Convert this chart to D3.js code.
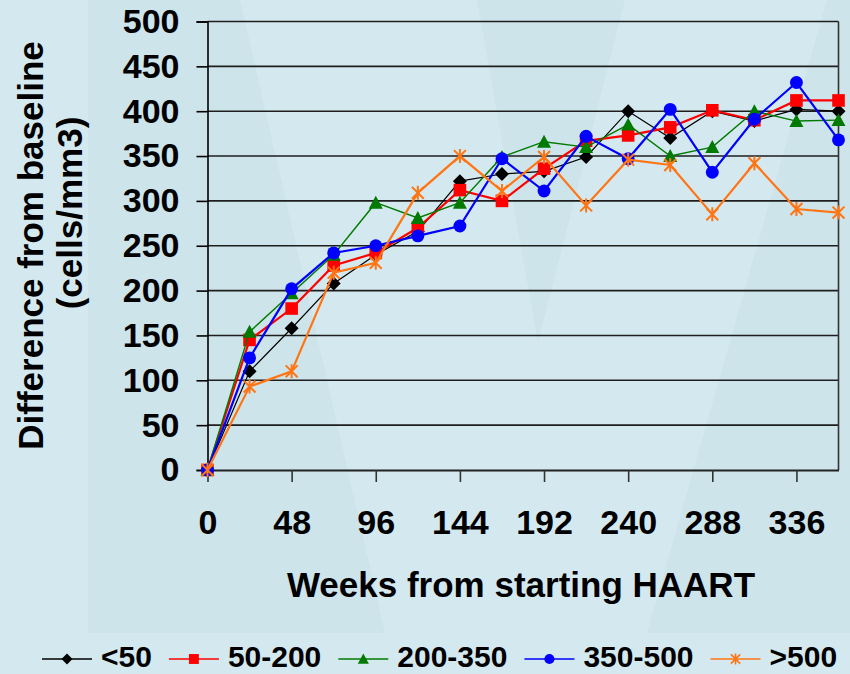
<!DOCTYPE html>
<html lang="en">
<head>
<meta charset="utf-8">
<title>CD4 change from baseline</title>
<script src="https://d3js.org/d3.v7.min.js"></script>
<style>
body { margin: 0; background: #cde4eb; }
text { font-family: "Liberation Sans", Arial, sans-serif; font-weight: bold; fill: #000; }
</style>
</head>
<body>
<div id="chart"></div>
<script>
// weeks from starting HAART
var weeks = [0, 24, 48, 72, 96, 120, 144, 168, 192, 216, 240, 264, 288, 312, 336, 360]
var xTicks = [0, 48, 96, 144, 192, 240, 288, 336]
var yTicks = [0, 50, 100, 150, 200, 250, 300, 350, 400, 450, 500]

// baseline CD4 strata
var groupNames = ["<50", "50-200", "200-350", "350-500", ">500"]
var lt50 = [0, 110, 158, 208, 240, 266, 322, 330, 333, 349, 400, 370, 400, 389, 402, 400]
var g50to200 = [0, 145, 180, 228, 242, 270, 312, 300, 336, 367, 373, 382, 401, 390, 412, 412]
var g200to350 = [0, 154, 197, 240, 298, 281, 298, 349, 366, 360, 385, 350, 360, 400, 389, 390]
var g350to500 = [0, 125, 202, 242, 250, 261, 272, 347, 311, 372, 347, 402, 332, 391, 432, 368]
var gt500 = [0, 93, 110, 220, 231, 309, 350, 311, 349, 295, 346, 340, 285, 342, 291, 287]

var allSeries = [lt50, g50to200, g200to350, g350to500, gt500]
var colors = ["#000000", "#ff0000", "#007a00", "#0000ff", "#ff7514"]
var widths = [1.2, 2.2, 1.4, 2.2, 2.2]
var shapes = ["diamond", "square", "triangle", "circle", "star"]

var w = 850
var h = 674

var svg = d3.select("#chart").append("svg")
    .attr("width", w)
    .attr("height", h)

// slide background: darker base, lighter panels and the faint V
svg.append("rect").attr("width", w).attr("height", h).attr("fill", "#cde4eb")
svg.append("rect").attr("width", 88).attr("height", 633).attr("fill", "#d4e9ef")
svg.append("rect").attr("y", 633).attr("width", w).attr("height", 41).attr("fill", "#d4e9ef")
svg.append("path").attr("d", "M240,0 L477,0 L538,343 L625,0 L827,0 L647,633 L385,633 Z").attr("fill", "#d4e9ef")

var x = d3.scaleLinear().domain([0, 360]).range([207.5, 838.5])
var y = d3.scaleLinear().domain([0, 500]).range([470, 21.5])

// gridlines
svg.append("g").selectAll("line")
    .data(yTicks.slice(1))
    .enter().append("line")
    .attr("x1", x(0)).attr("x2", x(360))
    .attr("y1", function(d) { return y(d) }).attr("y2", function(d) { return y(d) })
    .attr("stroke", "#1e1e1e").attr("stroke-width", 1.6)

// right frame
svg.append("line")
    .attr("x1", x(360)).attr("x2", x(360))
    .attr("y1", y(500)).attr("y2", y(0))
    .attr("stroke", "#333").attr("stroke-width", 1.6)

var yAxis = d3.axisLeft(y).tickValues(yTicks).tickSize(11).tickPadding(17)
var gy = svg.append("g").attr("transform", "translate(" + x(0) + ",0)").call(yAxis)
gy.select(".domain").attr("stroke", "#000").attr("stroke-width", 1.6)
gy.selectAll(".tick line").attr("stroke", "#000").attr("stroke-width", 1.6)
gy.selectAll("text").attr("font-size", 34).attr("fill", "#000")
    .style("font-family", "'Liberation Sans', Arial, sans-serif").style("font-weight", "bold")

var xAxis = d3.axisBottom(x).tickValues(xTicks).tickSizeInner(12).tickSizeOuter(0).tickPadding(28)
var gx = svg.append("g").attr("transform", "translate(0," + y(0) + ")").call(xAxis)
gx.select(".domain").attr("stroke", "#222").attr("stroke-width", 2)
gx.selectAll(".tick line").attr("stroke", "#333").attr("stroke-width", 1.6)
gx.selectAll("text").attr("font-size", 34).attr("fill", "#000")
    .style("font-family", "'Liberation Sans', Arial, sans-serif").style("font-weight", "bold")

// axis titles
svg.append("text")
    .attr("x", 521).attr("y", 597)
    .attr("text-anchor", "middle").attr("font-size", 35)
    .text("Weeks from starting HAART")
svg.append("text")
    .attr("transform", "translate(43,245.5) rotate(-90)")
    .attr("text-anchor", "middle").attr("font-size", 35)
    .text("Difference from baseline")
svg.append("text")
    .attr("transform", "translate(82,213) rotate(-90)")
    .attr("text-anchor", "middle").attr("font-size", 35)
    .text("(cells/mm3)")

function markerPath(shape, s) {
    if (shape == "diamond") return "M0," + (-s) + "L" + s + ",0L0," + s + "L" + (-s) + ",0Z"
    if (shape == "square") return "M" + (-s * 0.9) + "," + (-s * 0.9) + "h" + (s * 1.8) + "v" + (s * 1.8) + "h" + (-s * 1.8) + "Z"
    if (shape == "triangle") return "M0," + (-s) + "L" + s + "," + (s * 0.85) + "L" + (-s) + "," + (s * 0.85) + "Z"
    if (shape == "circle") return d3.symbol(d3.symbolCircle, Math.PI * s * s * 0.85)()
    var a = s * 0.85
    return "M" + (-a) + "," + (-a) + "L" + a + "," + a + "M" + a + "," + (-a) + "L" + (-a) + "," + a + "M0," + (-s) + "L0," + s
}

var line = d3.line()
    .x(function(d, i) { return x(weeks[i]) })
    .y(function(d) { return y(d) })

allSeries.forEach(function(vals, k) {
    var g = svg.append("g")
    g.append("path")
        .attr("d", line(vals))
        .attr("fill", "none")
        .attr("stroke", colors[k])
        .attr("stroke-width", widths[k])
    g.selectAll("path.mk")
        .data(vals)
        .enter().append("path")
        .attr("class", "mk")
        .attr("transform", function(d, i) { return "translate(" + x(weeks[i]) + "," + y(d) + ")" })
        .attr("d", markerPath(shapes[k], 7))
        .attr("fill", shapes[k] == "star" ? "none" : colors[k])
        .attr("stroke", colors[k])
        .attr("stroke-width", shapes[k] == "star" ? 2 : 0)
})

// legend along the bottom
var lx = 42
var ly = 659
groupNames.forEach(function(name, k) {
    svg.append("line")
        .attr("x1", lx).attr("x2", lx + 50)
        .attr("y1", ly).attr("y2", ly)
        .attr("stroke", colors[k]).attr("stroke-width", 1.6)
    svg.append("path")
        .attr("transform", "translate(" + (lx + 25) + "," + ly + ")")
        .attr("d", markerPath(shapes[k], 5.5))
        .attr("fill", shapes[k] == "star" ? "none" : colors[k])
        .attr("stroke", colors[k])
        .attr("stroke-width", shapes[k] == "star" ? 1.6 : 0)
    var t = svg.append("text")
        .attr("x", lx + 59).attr("y", ly + 8)
        .attr("font-size", 30)
        .text(name)
    lx = lx + 59 + t.node().getComputedTextLength() + 17
})
</script>
</body>
</html>
